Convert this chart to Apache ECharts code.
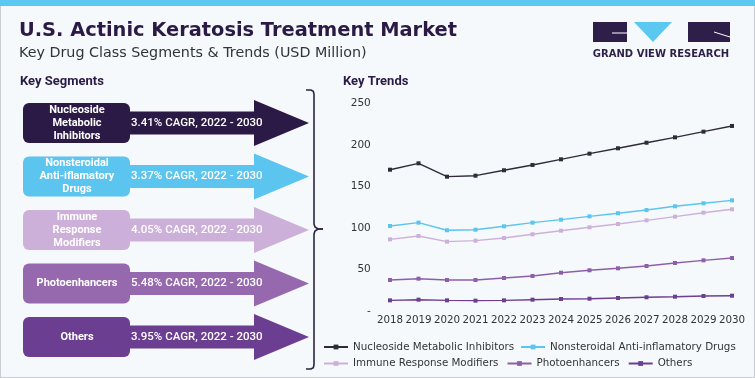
<!DOCTYPE html>
<html>
<head>
<meta charset="utf-8">
<script src="https://cdn.jsdelivr.net/npm/echarts@6/dist/echarts.min.js"></script>
<style>
html,body{margin:0;padding:0;background:#f5f9fc;}
#c{width:755px;height:378px;}
</style>
</head>
<body>
<div id="c"></div>
<script>
const years = ['2018','2019','2020','2021','2022','2023','2024','2025','2026','2027','2028','2029','2030'];
const nucleoside = [170, 177.7, 161.6, 162.8, 169.3, 175.7, 182.5, 189.3, 195.8, 202.5, 209, 215.8, 222.7];
const nsaid = [102.2, 106.2, 97, 97.7, 101.8, 106.2, 109.8, 113.8, 117.5, 121.4, 125.9, 129.5, 133.1];
const immune = [86.1, 90.1, 83.3, 84.5, 87.7, 92.2, 96.5, 100.6, 104.6, 109, 113.4, 118.2, 122.3];
const photo = [37.1, 38.7, 37.1, 37.1, 39.5, 41.9, 45.9, 48.8, 51.2, 54, 57.6, 60.8, 63.6];
const others = [12.6, 13.4, 12.6, 12.2, 12.6, 13.4, 14.2, 14.6, 15.4, 16.3, 17, 17.8, 18.2];
const seriesNames = ['Nucleoside Metabolic Inhibitors','Nonsteroidal Anti-inflamatory Drugs','Immune Response Modifiers','Photoenhancers','Others'];
const segmentLabels = ['Nucleoside\nMetabolic\nInhibitors','Nonsteroidal\nAnti-iflamatory\nDrugs','Immune\nResponse\nModifiers','Photoenhancers','Others'];
const cagrLabels = ['3.41% CAGR, 2022 - 2030','3.37% CAGR, 2022 - 2030','4.05% CAGR, 2022 - 2030','5.48% CAGR, 2022 - 2030','3.95% CAGR, 2022 - 2030'];
const yTicks = [0, 50, 100, 150, 200, 250];

const boxColors = ['#2c1a46','#5bc4ef','#cdb0d9','#9668ae','#6c3e92'];
const lineColors = ['#2f2b38','#5bc4ef','#cdb0d9','#8c5fa8','#6c3e92'];
const FONT = 'Roboto';
const WIDE = 'DejaVu Sans';

const chart = echarts.init(document.getElementById('c'));

const graphics = [];
// frame
graphics.push({type:'rect', shape:{x:0,y:0,width:755,height:378}, style:{fill:'#f5f9fc', stroke:'#c9ccd0', lineWidth:2}, z:-10});
graphics.push({type:'rect', shape:{x:0,y:0,width:755,height:6}, style:{fill:'#5ac8f0'}, z:-5});
// title
graphics.push({type:'text', x:19, y:31, style:{text:'U.S. Actinic Keratosis Treatment Market', font:'bold 19.4px "'+WIDE+'"', fill:'#2b1a45', textVerticalAlign:'middle'}});
graphics.push({type:'text', x:19, y:53, style:{text:'Key Drug Class Segments & Trends (USD Million)', font:'14.3px "'+WIDE+'"', fill:'#333333', textVerticalAlign:'middle'}});
// logo
graphics.push({type:'polygon', z:5, shape:{points:[[593,22],[627,22],[627,42],[593,42]]}, style:{fill:'#2e1f4a', stroke:null}});
graphics.push({type:'line', z:6, shape:{x1:612,y1:33,x2:627,y2:33}, style:{stroke:'#ffffff', lineWidth:1}});
graphics.push({type:'polygon', z:5, shape:{points:[[634,22],[672,22],[653,42]]}, style:{fill:'#5ac8f0', stroke:null}});
graphics.push({type:'polygon', z:5, shape:{points:[[688,22],[730,22],[730,42],[688,42]]}, style:{fill:'#2e1f4a', stroke:null}});
graphics.push({type:'line', z:6, shape:{x1:714,y1:32,x2:730,y2:37}, style:{stroke:'#ffffff', lineWidth:1}});
graphics.push({type:'text', x:661, y:54, style:{text:'GRAND VIEW RESEARCH', font:'bold 10px "'+WIDE+'"', fill:'#2e1f4a', textAlign:'center', textVerticalAlign:'middle'}});
// headings
graphics.push({type:'text', x:20, y:82, style:{text:'Key Segments', font:'bold 13px '+FONT, fill:'#2b1a45', textVerticalAlign:'middle'}});
graphics.push({type:'text', x:343, y:82, style:{text:'Key Trends', font:'bold 13px '+FONT, fill:'#2b1a45', textVerticalAlign:'middle'}});
// segments
segmentLabels.forEach((lab, i) => {
  const cy = 123 + i * 53.5;
  graphics.push({type:'polygon', shape:{points:[[128,cy-11.5],[254,cy-11.5],[254,cy-23],[309,cy],[254,cy+23],[254,cy+11.5],[128,cy+11.5]]}, style:{fill:boxColors[i]}});
  graphics.push({type:'rect', shape:{x:23,y:cy-20,width:107,height:40,r:6}, style:{fill:boxColors[i]}});
  graphics.push({type:'text', x:77, y:cy, style:{text:lab, font:'bold 11px '+FONT, fill:'#ffffff', textAlign:'center', textVerticalAlign:'middle', lineHeight:13}});
  graphics.push({type:'text', x:131, y:cy, style:{text:cagrLabels[i], font:'500 11.5px '+FONT, fill:'#ffffff', textVerticalAlign:'middle'}});
});
// brace
graphics.push({type:'polyline', shape:{points:[[306,90],[311,90],[313.3,91.2],[314,94],[314,224],[315,227],[318,229],[323,229]]}, style:{stroke:'#2e2346', lineWidth:1.6, fill:null}});
graphics.push({type:'polyline', shape:{points:[[323,229],[318,229],[315,231],[314,234],[314,365],[313.3,367.8],[311,369],[306,369]]}, style:{stroke:'#2e2346', lineWidth:1.6, fill:null}});

function mkSeries(name, data, color){
  return {name:name, type:'line', data:data, symbol:'rect', symbolSize:4, showSymbol:true,
    lineStyle:{color:color, width:1.4}, itemStyle:{color:color}};
}

const legendText = {fontFamily:WIDE, fontSize:10.3, color:'#333'};
chart.setOption({
  backgroundColor:'#f5f9fc',
  animation:false,
  graphic: graphics,
  grid:{left:375.75, right:8.75, top:103.3, bottom:67.2, containLabel:false},
  legend:[
    {data:[seriesNames[0], seriesNames[1]], left:323, top:342, padding:0, width:430, itemWidth:24, itemHeight:6, itemGap:6,
     textStyle:legendText},
    {data:[seriesNames[2], seriesNames[3], seriesNames[4]], left:323, top:358.5, padding:0, width:430, itemWidth:24, itemHeight:6, itemGap:8,
     textStyle:legendText}
  ],
  xAxis:{type:'category', data:years, boundaryGap:true,
    axisLine:{show:false}, axisTick:{show:false},
    axisLabel:{fontFamily:WIDE, fontSize:10.3, color:'#333', margin:5, interval:0}},
  yAxis:{type:'value', min:yTicks[0], max:yTicks[yTicks.length-1], interval:50,
    axisLine:{show:false}, axisTick:{show:false}, splitLine:{show:false},
    axisLabel:{fontFamily:WIDE, fontSize:10.5, color:'#333', margin:5, formatter:v => v === 0 ? '-' : String(v)}},
  series:[
    mkSeries(seriesNames[0], nucleoside, lineColors[0]),
    mkSeries(seriesNames[1], nsaid, lineColors[1]),
    mkSeries(seriesNames[2], immune, lineColors[2]),
    mkSeries(seriesNames[3], photo, lineColors[3]),
    mkSeries(seriesNames[4], others, lineColors[4])
  ]
});
</script>
</body>
</html>
